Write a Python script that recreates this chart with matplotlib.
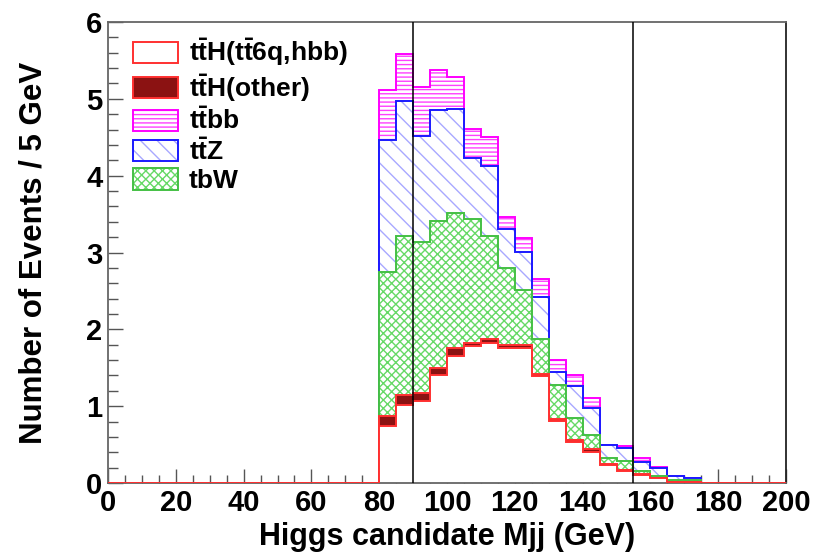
import numpy as np
import matplotlib
matplotlib.use("Agg")
import matplotlib.pyplot as plt
from matplotlib.patches import Patch
from matplotlib.ticker import MultipleLocator

plt.rcParams["font.family"] = "Liberation Sans"
plt.rcParams["font.weight"] = "bold"
plt.rcParams["mathtext.fontset"] = "custom"
plt.rcParams["mathtext.rm"] = "Liberation Sans:bold"
plt.rcParams["mathtext.bf"] = "Liberation Sans:bold"
plt.rcParams["mathtext.it"] = "Liberation Sans:bold"
plt.rcParams["hatch.linewidth"] = 1.0

# 5 GeV bins, 0..200 GeV; everything below 80 GeV is empty
bin_width = 5
mjj_min, mjj_max = 0, 200
first_filled = 80

# events per bin, starting at 80 GeV (stack order bottom -> top)
tth_6q    = [0.74, 1.02, 1.07, 1.40, 1.65, 1.78, 1.82, 1.76, 1.76, 1.39, 0.81, 0.54,
             0.40, 0.23, 0.15, 0.11, 0.07, 0.01, 0.01, 0.0, 0.0, 0.0, 0.0, 0.0]
tth_other = [0.13, 0.12, 0.10, 0.10, 0.11, 0.04, 0.05, 0.04, 0.04, 0.03, 0.02, 0.02,
             0.04, 0.02, 0.02, 0.01, 0.0, 0.0, 0.0, 0.0, 0.0, 0.0, 0.0, 0.0]
tbw       = [1.88, 2.08, 1.97, 1.91, 1.75, 1.62, 1.34, 1.00, 0.71, 0.46, 0.45, 0.28,
             0.19, 0.08, 0.11, 0.03, 0.02, 0.03, 0.03, 0.0, 0.0, 0.0, 0.0, 0.0]
ttz       = [1.71, 1.75, 1.38, 1.44, 1.36, 0.79, 0.92, 0.50, 0.50, 0.54, 0.16, 0.42,
             0.35, 0.16, 0.18, 0.12, 0.10, 0.05, 0.03, 0.0, 0.0, 0.0, 0.0, 0.0]
ttbb      = [0.66, 0.61, 0.63, 0.52, 0.41, 0.38, 0.37, 0.16, 0.18, 0.23, 0.16, 0.14,
             0.12, 0.01, 0.02, 0.06, 0.02, 0.0, 0.0, 0.0, 0.0, 0.0, 0.0, 0.0]

# legend order as in the original: ttH(6q), ttH(other), ttbb, ttZ, tbW
labels = [r"$\mathbf{t\bar{t}}$H($\mathbf{t\bar{t}}$6q,hbb)",
          r"$\mathbf{t\bar{t}}$H(other)",
          r"$\mathbf{t\bar{t}}$bb",
          r"$\mathbf{t\bar{t}}$Z",
          "tbW"]
legend_order = [0, 1, 4, 3, 2]
cut_lines = [90, 155]

# ── build cumulative stack ───────────────────────────────
edges = np.arange(mjj_min, mjj_max + bin_width, bin_width)
n_empty = (first_filled - mjj_min) // bin_width
pad = np.zeros(n_empty)
comps = [np.concatenate([pad, np.array(c)]) for c in (tth_6q, tth_other, tbw, ttz, ttbb)]
cum = np.cumsum(comps, axis=0)

fig = plt.figure(figsize=(8.14, 5.55), dpi=100)
ax = fig.add_axes([108/814, 1 - 483/555, 678/814, 461/555])

# (face, hatch, hatch colour, outline colour), bottom -> top
styles = [
    ("white",   None,    "#ff3030", "#ff3030"),
    ("#8b1212", None,    "#8b1212", "#ff3030"),
    ("white",   "xxxx",  "#66d966", "#44c044"),
    ("white",   "\\\\",  "#a8a8ff", "#1a1aff"),
    ("white",   "----",  "#ff40ff", "#ff00ff"),
]

# ROOT-like drawing: top of the stack first, each filled from zero
z = 3
for i in range(4, -1, -1):
    face, hatch, hcol, lcol = styles[i]
    ax.stairs(cum[i], edges, baseline=0, fill=True, facecolor=face,
              edgecolor=hcol, hatch=hatch, linewidth=0, zorder=z)
    ax.stairs(cum[i], edges, baseline=0, fill=False, edgecolor=lcol,
              linewidth=1.4, zorder=9 if i == 0 else z + 0.5)
    z += 1

for xc in cut_lines:
    ax.axvline(xc, color="black", linewidth=1.1, zorder=10)

ax.set_xlim(mjj_min, mjj_max)
ax.set_ylim(0, 6)
ax.xaxis.set_major_locator(MultipleLocator(20))
ax.xaxis.set_minor_locator(MultipleLocator(5))
ax.yaxis.set_major_locator(MultipleLocator(1))
ax.yaxis.set_minor_locator(MultipleLocator(0.2))
ax.tick_params(which="both", direction="in", top=False, right=False, color="#555555", width=1)
ax.tick_params(axis="y", which="major", length=11, labelsize=21, pad=4)
ax.tick_params(axis="y", which="minor", length=7)
ax.tick_params(axis="x", which="major", length=10, labelsize=21, pad=4)
ax.tick_params(axis="x", which="minor", length=6)
for s in ax.spines.values():
    s.set_color("#666666")
    s.set_linewidth(1.3)
    s.set_zorder(8)
ax.spines["right"].set_color("#222222")

ax.set_xlabel("Higgs candidate Mjj (GeV)", fontsize=22, fontweight="bold", labelpad=4)
ax.set_ylabel("Number of Events / 5 GeV", fontsize=22.5, fontweight="bold", labelpad=27)

# ── legend ───────────────────────────────────────────────
handles = []
for k in legend_order:
    face, hatch, hcol, lcol = styles[k]
    fill = Patch(facecolor=face, edgecolor=hcol, hatch=hatch, linewidth=0)
    outline = Patch(facecolor="none", edgecolor=lcol, linewidth=1.4)
    handles.append((fill, outline))
ax.legend(handles, labels, loc="upper left", bbox_to_anchor=(0.037, 0.968),
          frameon=False, fontsize=19, handlelength=1.7, handleheight=0.85,
          labelspacing=0.14, handletextpad=0.4, borderpad=0, borderaxespad=0)

fig.savefig("out.png", dpi=100)
